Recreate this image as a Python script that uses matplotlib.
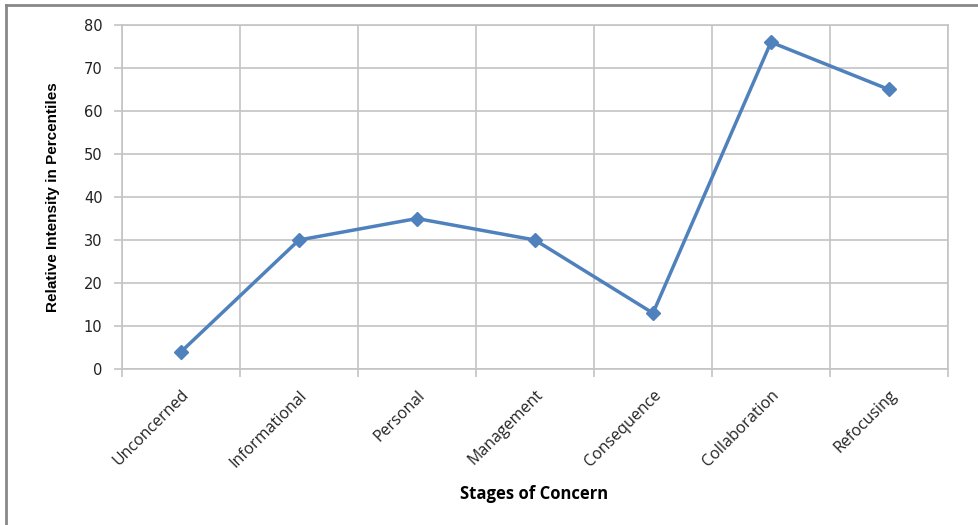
import matplotlib.pyplot as plt
from matplotlib.lines import Line2D

stages = ["Unconcerned", "Informational", "Personal", "Management",
          "Consequence", "Collaboration", "Refocusing"]
intensity = [4, 30, 35, 30, 13, 76, 65]
y_ticks = [0, 10, 20, 30, 40, 50, 60, 70, 80]

grid_col = "#c4c4c4"

fig = plt.figure(figsize=(9.79, 5.25), dpi=100)
ax = fig.add_axes([0.1246, 0.2971, 0.8437, 0.6553])

x = list(range(len(stages)))
ax.plot(x, intensity, color="#4F81BD", lw=2.5, marker="D", ms=7,
        markeredgecolor="#4F81BD", zorder=3)

ax.set_xlim(-0.5, len(stages) - 0.5)
ax.set_ylim(0, 80)
ax.set_yticks(y_ticks)
ax.set_yticklabels([str(v) for v in y_ticks], fontsize=10.5,
                   family="DejaVu Sans", color="#222222")

ax.set_xticks(x)
ax.set_xticklabels(stages, rotation=45, ha="right", rotation_mode="anchor",
                   fontsize=11.5, family="Open Sans", color="#222222")
ax.tick_params(axis="x", length=0, pad=13)
ax.set_xticks([i - 0.5 for i in range(len(stages) + 1)], minor=True)
ax.tick_params(axis="x", which="minor", length=6, color=grid_col, width=1.2)
ax.tick_params(axis="y", length=6, color=grid_col, width=1.2, pad=8)

ax.grid(True, axis="y", color=grid_col, lw=1.2)
ax.grid(True, axis="x", which="minor", color=grid_col, lw=1.2)
for s in ax.spines.values():
    s.set_color(grid_col)
    s.set_linewidth(1.2)

ax.set_ylabel("Relative Intensity in Percentiles", fontsize=11,
              fontweight="bold", family=["Liberation Sans Narrow", "Liberation Sans"],
              fontstretch="condensed", labelpad=17)
fig.text(0.546, 0.059, "Stages of Concern", ha="center", va="center",
         fontsize=12, fontweight="bold", family="Open Sans")

# outer frame (left and top edges visible)
fig.add_artist(Line2D([0.0061, 0.0061], [0, 0.991], color="#888888", lw=2))
fig.add_artist(Line2D([0.0061, 1], [0.991, 0.991], color="#888888", lw=2))

fig.savefig("out.png", dpi=100)
